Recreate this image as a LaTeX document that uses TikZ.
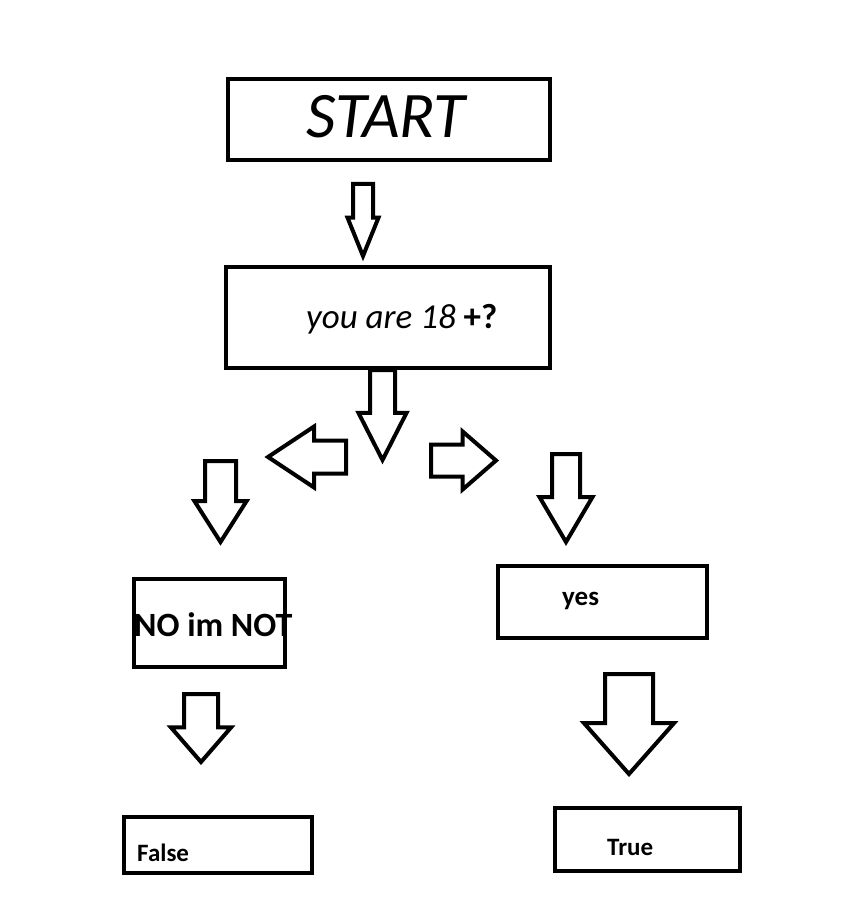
\documentclass[tikz,border=0pt]{standalone}
\usepackage{fontspec}
\setmainfont{Carlito}
\usetikzlibrary{shapes.arrows}
\begin{document}
\begin{tikzpicture}[x=1pt,y=-1pt,
    box/.style={draw,line width=4pt,inner sep=0pt,outer sep=0pt},
    word/.style={inner sep=0pt,anchor=base west},
    blockarrow/.style={single arrow,draw,line width=4pt,outer sep=0pt,
      inner xsep=0pt,minimum width=0pt,anchor=tip}]
        \useasboundingbox (0,0) rectangle (860,917);
        % boxes
        \draw (389,119.5) node[box,minimum width=322pt,minimum height=81pt](start){};
        \draw (388,317.5) node[box,minimum width=324pt,minimum height=101pt](ask){};
        \draw (209.5,623) node[box,minimum width=151pt,minimum height=88pt](no){};
        \draw (602.5,602) node[box,minimum width=209pt,minimum height=72pt](yes){};
        \draw (218,845) node[box,minimum width=188pt,minimum height=56pt](false){};
        \draw (647.5,839.5) node[box,minimum width=185pt,minimum height=63pt](true){};
        % texts
        \draw (306,138) node[word,font=\fontsize{65}{70}\selectfont\itshape](start-t){START};
        \draw (306,328) node[word,font=\fontsize{35}{40}\selectfont\itshape](ask-t){you are 18 \textbf{\upshape +?}};
        \draw (134,636) node[word,font=\fontsize{34}{40}\selectfont\bfseries](no-t){NO im NOT};
        \draw (562,605) node[word,font=\fontsize{27}{30}\selectfont\bfseries](yes-t){yes};
        \draw (137,861) node[word,font=\fontsize{25}{30}\selectfont\bfseries](false-t){False};
        \draw (607,855) node[word,font=\fontsize{25}{30}\selectfont\bfseries](true-t){True};
        % block arrows
        \draw (363,256) node[blockarrow,rotate=-90,minimum height=72pt,inner ysep=8pt,single arrow head extend=5.5pt,single arrow tip angle=44](a1){};
        \draw (382.5,460) node[blockarrow,rotate=-90,minimum height=90pt,inner ysep=10.5pt,single arrow head extend=11.5pt,single arrow tip angle=54](a2){};
        \draw (268,457) node[blockarrow,rotate=180,minimum height=78pt,inner ysep=14.5pt,single arrow head extend=14pt,single arrow tip angle=67](a3){};
        \draw (496,460.5) node[blockarrow,minimum height=65pt,inner ysep=14pt,single arrow head extend=13pt,single arrow tip angle=82](a4){};
        \draw (220.5,542) node[blockarrow,rotate=-90,minimum height=81pt,inner ysep=13.5pt,single arrow head extend=10.5pt,single arrow tip angle=65](a5){};
        \draw (566,542) node[blockarrow,rotate=-90,minimum height=88pt,inner ysep=12pt,single arrow head extend=12.5pt,single arrow tip angle=61](a6){};
        \draw (629,774) node[blockarrow,rotate=-90,minimum height=100pt,inner ysep=22pt,single arrow head extend=21pt,single arrow tip angle=83](a7){};
        \draw (201,762) node[blockarrow,rotate=-90,minimum height=68pt,inner ysep=15pt,single arrow head extend=13pt,single arrow tip angle=82](a8){};
      \end{tikzpicture}
\end{document}
